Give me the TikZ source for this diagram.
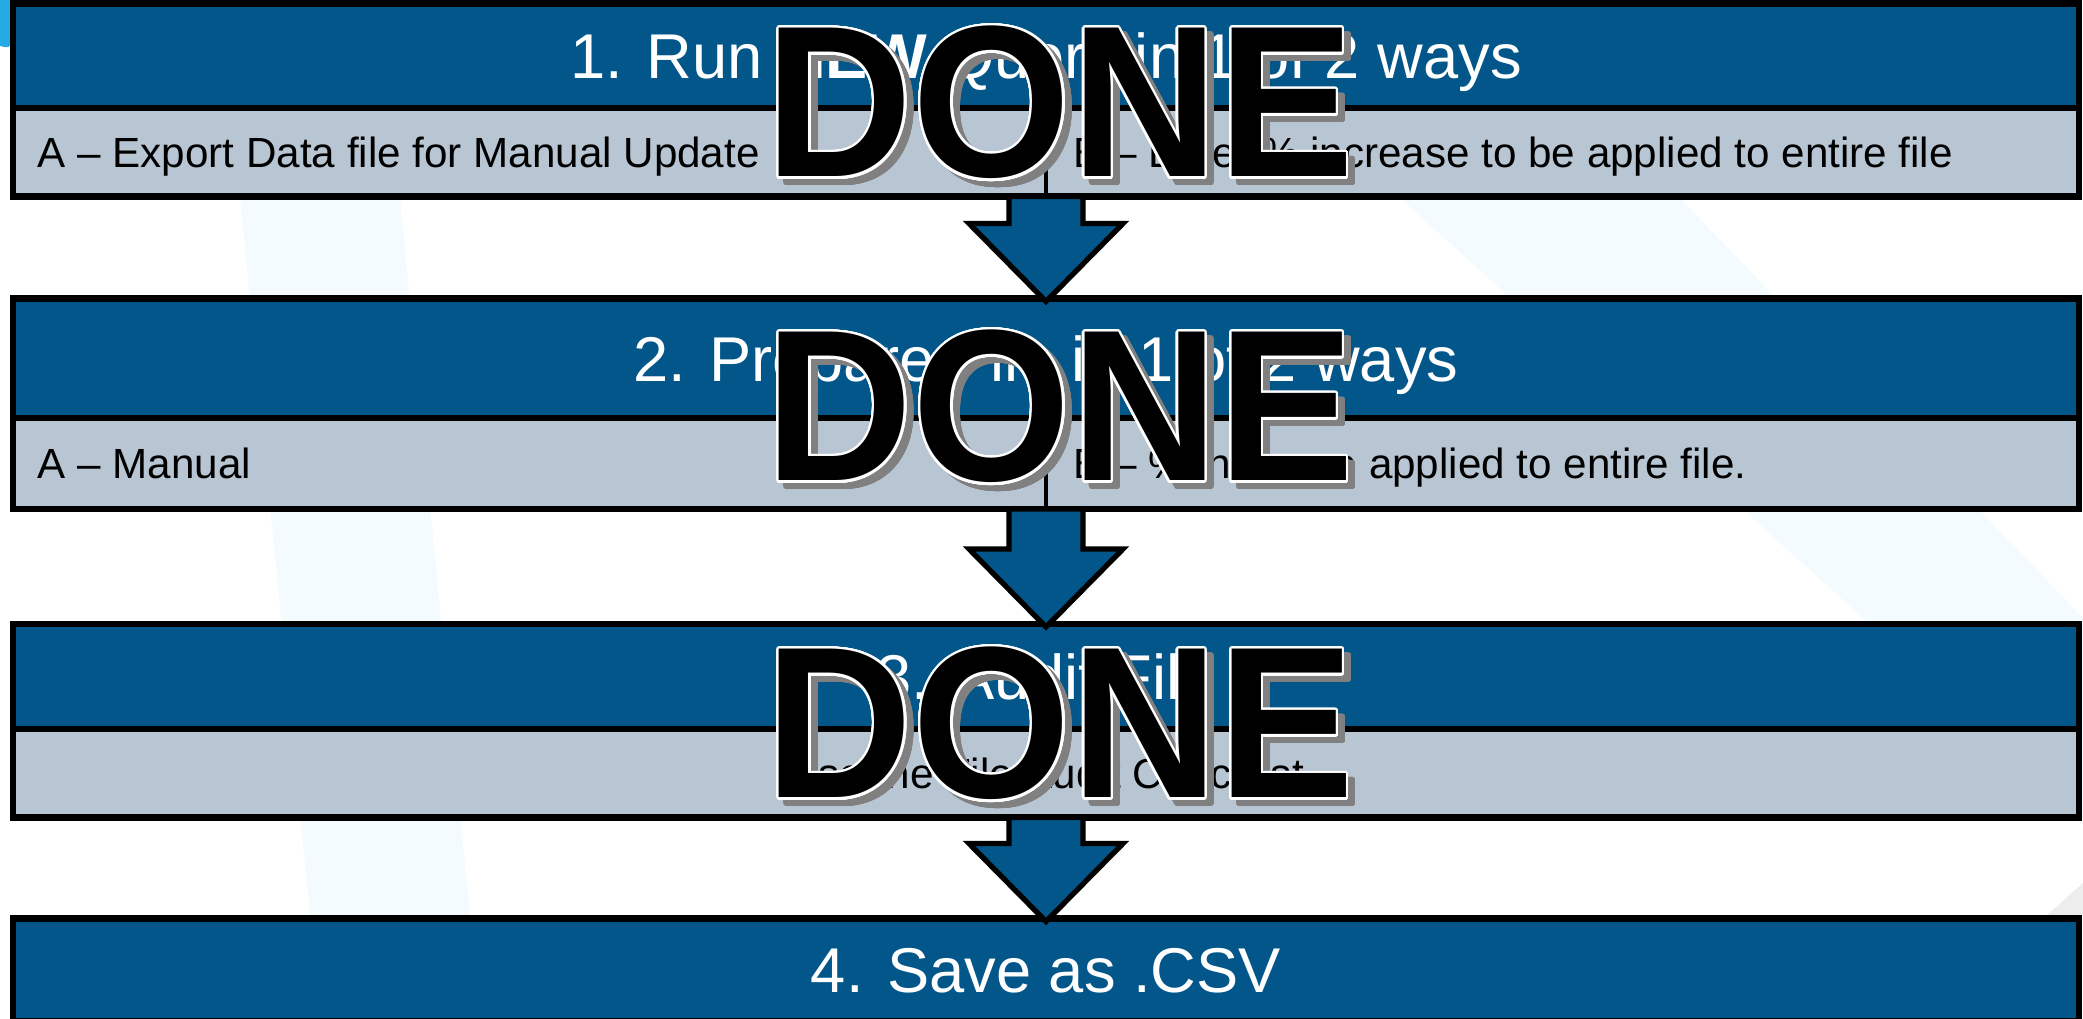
\documentclass[tikz,border=0pt]{standalone}
\usepackage{fontspec}
\setmainfont{Liberation Sans}
\usepackage{contour}
\usetikzlibrary{positioning, calc}

\definecolor{stepblue}{RGB}{2,86,138}
\definecolor{steplight}{RGB}{184,197,210}
\definecolor{haze}{RGB}{244,251,254}
\definecolor{corner}{RGB}{38,170,226}

\contourlength{0.7pt}
\contournumber{32}

\newcommand{\blockarrow}[2]{% #1=box above, #2=box below
  \filldraw[barrow] ($(#1.south)+(-0.37,0)$) -- ($(#2.north)+(-0.37,0.75)$)
    -- ++(-0.40,0) -- ($(#2.north)+(0,-0.03)$) -- ($(#2.north)+(0.77,0.75)$)
    -- ++(-0.40,0) -- ($(#1.south)+(0.37,0)$) -- cycle;}

\begin{document}
\begin{tikzpicture}[
  head/.style={draw=black, line width=1.85pt, fill=stepblue, text=white,
    font=\fontsize{18}{20}\selectfont, minimum width=20.66cm,
    inner sep=0pt, outer sep=0pt, text height=0.455cm, text depth=0pt},
  sub/.style={draw=black, line width=1.85pt, fill=steplight,
    font=\fontsize{12}{14}\selectfont, minimum width=20.66cm,
    inner sep=0pt, outer sep=0pt, text height=0.30cm, text depth=0pt},
  subtxt/.style={font=\fontsize{12}{14}\selectfont, inner sep=0pt,
    text height=0.30cm, text depth=0pt},
  divider/.style={line width=1.1pt},
  barrow/.style={draw=black, fill=stepblue, line width=1.5pt, line join=miter},
  stamp/.style={font=\fontsize{61.4}{62}\selectfont\bfseries, anchor=base,
    inner sep=0pt, xscale=0.944, transform shape},
]

\useasboundingbox (0,0) rectangle (20.83,10.18);
\clip (0,0) rectangle (20.83,10.18);

% ---------- BACKDROP ----------
\fill[haze] (2.4,8.2) -- (4.0,8.2) -- (4.8,0) -- (3.2,0) -- cycle;
\fill[haze] (14.0,8.2) -- (16.8,8.2) -- (20.83,4.0) -- (20.83,2.0) -- cycle;
\fill[corner] (0,10.18) -- (0.16,10.18) -- (0.13,9.75)
  .. controls (0.08,9.70) .. (0,9.72) -- cycle;
\fill[gray!14] (20.47,1.03) -- (20.83,1.35) -- (20.83,1.03) -- cycle;

% ---------- STEP 1 ----------
\node[head, minimum height=1.045cm, anchor=north] (h1) at (10.46,10.145)
  {1. Run \textbf{NEW} Query in 1 of 2 ways};
\node[sub, minimum height=0.885cm, below=0pt of h1] (r1) {};
\draw[divider] (r1.north) -- (r1.south);
\node[subtxt, right=0.24cm of r1.west] (a1) {A – Export Data file for Manual Update};
\node[subtxt, right=0.27cm of r1.center] (b1)
  {B – Enter \% increase to be applied to entire file};

% ---------- STEP 2 ----------
\node[head, minimum height=1.195cm, below=1.02cm of r1] (h2)
  {2. Prepare File in 1 of 2 ways};
\node[sub, minimum height=0.91cm, below=0pt of h2] (r2) {};
\draw[divider] (r2.north) -- (r2.south);
\node[subtxt, right=0.24cm of r2.west] (a2) {A – Manual};
\node[subtxt, right=0.27cm of r2.center] (b2) {B – \% increase applied to entire file.};

% ---------- STEP 3 ----------
\node[head, minimum height=1.05cm, below=1.15cm of r2] (h3) {3. Audit File};
\node[sub, minimum height=0.885cm, below=0pt of h3] (r3) {Use the File Audit Checklist};

% ---------- STEP 4 ----------
\node[head, minimum height=1.03cm, below=1.01cm of r3] (h4) {4. Save as .CSV};

% ---------- ARROWS ----------
\blockarrow{r1}{h2}
\blockarrow{r2}{h3}
\blockarrow{r3}{h4}

% ---------- DONE STAMPS ----------
\foreach \h/\r in {h1/r1, h2/r2, h3/r3}{
  \node[stamp, text=black!50] (shade-\h) at ($(\h.north)!.5!(\r.south)+(0.21,-0.83)$)
    {\contour{black!50}{DONE}};
  \node[stamp] (done-\h) at ($(\h.north)!.5!(\r.south)+(0.14,-0.77)$)
    {\contour{white}{DONE}};
}

\end{tikzpicture}
\end{document}
